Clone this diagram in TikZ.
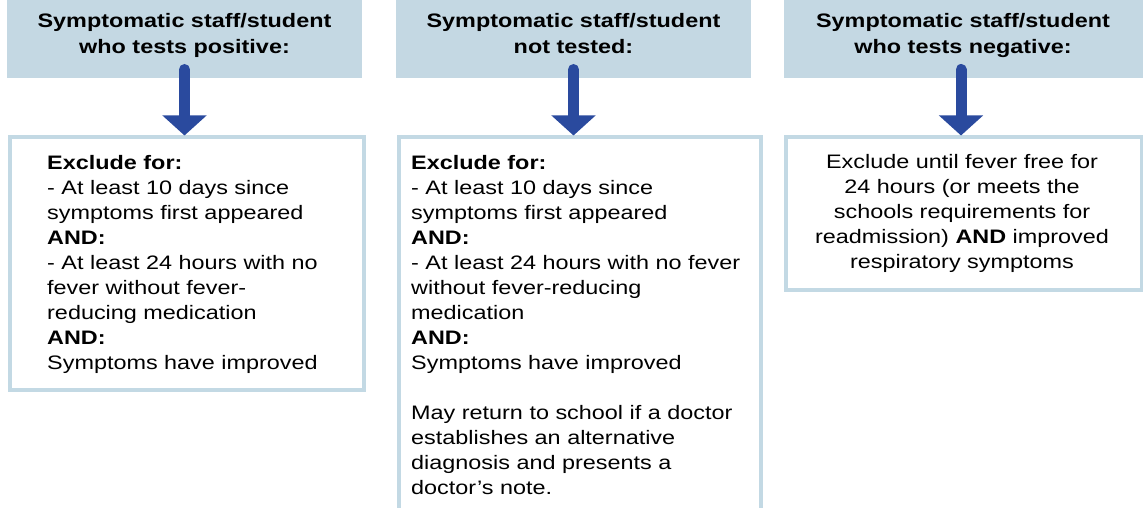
\documentclass[tikz,border=0pt]{standalone}
\usepackage{fontspec}
\setmainfont{Liberation Sans}[FakeStretch=1.2]
\usetikzlibrary{arrows.meta,calc}
\definecolor{hdrfill}{RGB}{196,216,227}
\definecolor{boxline}{RGB}{195,217,228}
\definecolor{arrowblue}{RGB}{42,74,158}
\begin{document}
\begin{tikzpicture}[x=1pt,y=-1pt,
  hdr/.style={fill=hdrfill, draw=none, inner sep=0pt, anchor=north west},
  hdrtext/.style={font=\bfseries\fontsize{19.5}{26.5}\selectfont, align=center, inner sep=0pt, anchor=base},
  cbox/.style={draw=boxline, line width=4pt, fill=white, inner sep=0pt, anchor=north west},
  bodytext/.style={font=\fontsize{19.5}{25}\selectfont, inner sep=0pt},
  downarrow/.style={draw=arrowblue, line width=11pt, line cap=round,
    -{Triangle[width=43pt,length=20pt]}}
]
\useasboundingbox (0,0) rectangle (1143,508);

% header boxes
\node[hdr, minimum width=355pt, minimum height=83pt] (h1) at (7,-5) {};
\node[hdr, minimum width=355pt, minimum height=83pt] (h2) at (396,-5) {};
\node[hdr, minimum width=363pt, minimum height=83pt] (h3) at (784,-5) {};

% (base anchor = baseline of the last line)
\node[hdrtext] (t1) at (184.5,54) {Symptomatic staff/student\\who tests positive:};
\node[hdrtext] (t2) at (573.5,54) {Symptomatic staff/student\\not tested:};
\node[hdrtext] (t3) at (963,54) {Symptomatic staff/student\\who tests negative:};

% content boxes
\node[cbox, minimum width=354pt, minimum height=252pt] (b1) at (7.5,135.5) {};
\node[cbox, minimum width=362pt, minimum height=400pt] (b2) at (396.5,135.5) {};
\node[cbox, minimum width=356pt, minimum height=152pt] (b3) at (784,135.5) {};

% arrows
\draw[downarrow] (184.5,69.5) -- (b1.north -| 184.5,0);
\draw[downarrow] (573.5,69.5) -- (b2.north -| 573.5,0);
\draw[downarrow] (961,69.5) -- (b3.north -| 961,0);

% texts
\node[bodytext, align=left, anchor=base west] (x1) at (47,369) {\textbf{Exclude for:}\\
- At least 10 days since\\
symptoms first appeared\\
\textbf{AND:}\\
- At least 24 hours with no\\
fever without fever-\\
reducing medication\\
\textbf{AND:}\\
Symptoms have improved};

\node[bodytext, align=left, anchor=base west] (x2) at (411,494) {\textbf{Exclude for:}\\
- At least 10 days since\\
symptoms first appeared\\
\textbf{AND:}\\
- At least 24 hours with no fever\\
without fever-reducing\\
medication\\
\textbf{AND:}\\
Symptoms have improved\\[25pt]
May return to school if a doctor\\
establishes an alternative\\
diagnosis and presents a\\
doctor’s note.};

\node[bodytext, align=center, anchor=base] (x3) at (962,268) {Exclude until fever free for\\
24 hours (or meets the\\
schools requirements for\\
readmission) \textbf{AND} improved\\
respiratory symptoms};
\end{tikzpicture}
\end{document}
